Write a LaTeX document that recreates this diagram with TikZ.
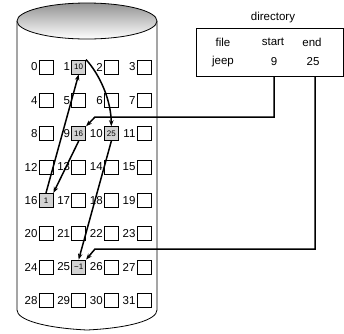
\documentclass[tikz,border=0pt]{standalone}
\usepackage{fontspec}
\setmainfont{Liberation Sans}
\usetikzlibrary{arrows.meta}
\begin{document}
\begin{tikzpicture}[x=1pt,y=-1pt,
  blk/.style={draw, line width=0.8pt, minimum size=14pt, inner sep=0pt, font=\fontsize{8}{9}\selectfont},
  used/.style={blk, fill=gray!35},
  num/.style={anchor=east, inner sep=1pt, font=\fontsize{11.5}{13}\selectfont},
  lnk/.style={line width=1.5pt, -{Stealth[length=6pt,width=4.5pt]}},
  txt/.style={font=\fontsize{11.5}{13}\selectfont, inner sep=1pt}]
\useasboundingbox (0,0) rectangle (344,333);
% disk cylinder
\draw[line width=0.8pt] (17,21) -- (17,310) .. controls (17,320) and (45,328) .. (87,330)
  .. controls (129,328) and (157,320) .. (157,310) -- (157,21);
\shade[top color=gray!85, bottom color=white, draw=black, line width=0.8pt] (87,21) ellipse [x radius=70, y radius=18];
% blocks
\foreach \r in {0,...,7} {
  \foreach \c in {0,...,3} {
    \pgfmathtruncatemacro\n{4*\r+\c}
    \node[blk] (b\n) at ({46+32.67*\c},{67+33.33*\r}) {};
    \node[num] (l\n) at (b\n.west) {\n};
  }
}
\node[used] (u1) at (b1) {10};
\node[used] (u9) at (b9) {16};
\node[used] (u10) at (b10) {25};
\node[used] (u16) at (b16) {1};
\node[used] (u25) at (b25) {−1};
% directory
\node[txt] (dirt) at (273,18) {directory};
\node[draw, line width=0.8pt, minimum width=147pt, minimum height=48pt, anchor=north west, inner sep=0pt] (dir) at (195.5,28) {};
\node[txt] (hf) at (223,42) {file};
\node[txt] (hs) at (273,42) {start};
\node[txt] (he) at (312,42) {end};
\node[txt] (vf) at (223,62) {jeep};
\node[txt] (vs) at (274,62) {9};
\node[txt] (ve) at (313,62) {25};
\coordinate (s1) at (274,117);
\coordinate (s2) at (95,117);
\coordinate (e1) at (315,249);
\coordinate (e2) at (95,249);
\draw[lnk] (vs |- dir.south) -- (s1) -- (s2) -- (u9.north east);
\draw[lnk] (315,76) -- (e1) -- (e2) -- (u25.north east);
% chain
\draw[lnk] (u9.south) -- (u16.north east);
\draw[lnk] (u16.north) -- (u1.south);
\draw[lnk] (u1.north east) .. controls (100,75) and (111,100) .. (u10.north);
\draw[lnk] (u10.south) -- (u25.north);
\end{tikzpicture}
\end{document}
